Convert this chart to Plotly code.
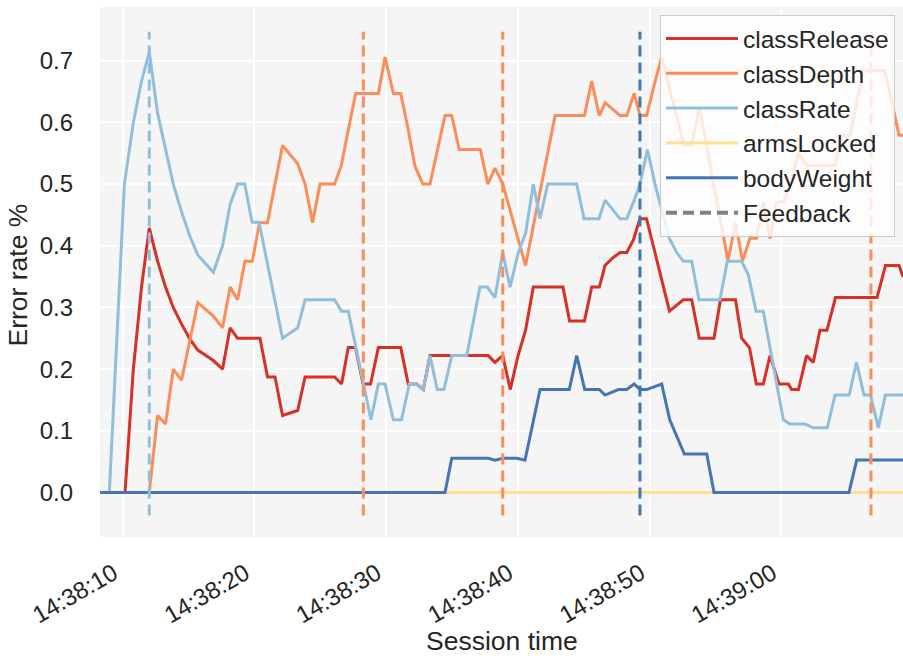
import pandas as pd
import plotly.graph_objects as go

# ---- data (seconds after 14:38:00, error rates) ----
BASE = pd.Timestamp("2023-01-01 14:38:00")

release_t = [8.29, 10.19, 10.82, 11.44, 12.03, 12.66, 13.26, 13.85, 14.48, 15.08,
             15.71, 16.89, 17.59, 18.16, 18.73, 20.43, 21.00, 21.57, 22.14, 23.29,
             23.85, 26.09, 26.62, 27.13, 27.68, 28.25, 28.82, 29.41, 31.11, 31.68,
             32.31, 32.82, 33.33, 37.75, 38.26, 38.85, 39.42, 40.01, 40.58, 41.17,
             43.42, 43.92, 45.05, 45.60, 46.18, 46.61, 47.24, 47.75, 48.26, 48.77,
             49.26, 49.76, 51.50, 52.55, 53.19, 53.76, 54.88, 55.37, 56.51, 56.98,
             57.57, 58.09, 58.62, 59.13, 59.81, 60.52, 60.77, 61.29, 61.90, 62.41,
             62.92, 63.45, 64.10, 67.25, 67.89, 68.92, 69.22]
release_v = [0, 0, 0.2, 0.333, 0.429, 0.375, 0.333, 0.3, 0.273, 0.25,
             0.231, 0.214, 0.2, 0.267, 0.25, 0.25, 0.1875, 0.1875, 0.125, 0.133,
             0.1875, 0.1875, 0.176, 0.235, 0.235, 0.176, 0.176, 0.235, 0.235, 0.176,
             0.176, 0.167, 0.222, 0.222, 0.211, 0.222, 0.167, 0.222, 0.263, 0.333,
             0.333, 0.278, 0.278, 0.333, 0.333, 0.368, 0.381, 0.389, 0.389, 0.41,
             0.444, 0.444, 0.294, 0.3125, 0.3125, 0.25, 0.25, 0.3125, 0.3125, 0.25,
             0.235, 0.176, 0.176, 0.222, 0.176, 0.176, 0.167, 0.167, 0.222, 0.211,
             0.263, 0.263, 0.316, 0.316, 0.368, 0.368, 0.35]

depth_t = [8.29, 12.03, 12.66, 13.26, 13.85, 14.48, 15.71, 16.89, 17.59, 18.16,
           18.73, 19.29, 19.85, 20.39, 21.00, 22.14, 23.29, 23.85, 24.42, 24.99,
           26.09, 26.59, 27.13, 27.69, 29.41, 29.92, 30.55, 31.11, 31.68, 32.19,
           32.78, 33.33, 34.47, 34.98, 35.55, 37.15, 37.72, 38.26, 38.85, 40.58,
           42.82, 45.05, 45.60, 46.18, 46.61, 47.75, 48.26, 48.82, 49.26, 49.77,
           50.33, 50.91, 51.49, 52.05, 52.63, 53.19, 53.76, 54.33, 54.83, 55.41,
           55.94, 56.51, 57.04, 57.61, 58.10, 58.62, 59.13, 59.64, 60.14, 60.68,
           61.29, 61.90, 64.06, 64.59, 65.20, 66.21, 67.85, 68.92, 69.22]
depth_v = [0, 0, 0.125, 0.111, 0.2, 0.182, 0.308, 0.286, 0.267, 0.333,
           0.3125, 0.375, 0.375, 0.4375, 0.4375, 0.5625, 0.533, 0.5, 0.4375, 0.5,
           0.5, 0.529, 0.588, 0.647, 0.647, 0.706, 0.647, 0.647, 0.588, 0.529,
           0.5, 0.5, 0.611, 0.611, 0.556, 0.556, 0.5, 0.526, 0.5, 0.368,
           0.611, 0.611, 0.667, 0.611, 0.632, 0.611, 0.611, 0.647, 0.611, 0.611,
           0.66, 0.706, 0.656, 0.611, 0.5625, 0.5625, 0.625, 0.5625, 0.5, 0.4375,
           0.375, 0.4375, 0.375, 0.412, 0.412, 0.471, 0.412, 0.471, 0.471, 0.5,
           0.55, 0.53, 0.53, 0.579, 0.579, 0.684, 0.684, 0.579, 0.579]

rate_t = [8.29, 9.00, 10.14, 10.82, 11.44, 12.03, 12.66, 13.26, 13.85, 14.48,
          15.08, 15.71, 16.89, 17.59, 18.16, 18.73, 19.27, 19.83, 20.36, 22.14,
          23.29, 23.85, 26.09, 26.62, 27.13, 28.85, 29.41, 29.92, 30.55, 31.17,
          31.76, 32.31, 32.82, 33.33, 33.88, 34.39, 34.98, 36.12, 37.12, 37.68,
          38.26, 38.85, 39.40, 40.03, 40.59, 41.17, 41.68, 42.26, 44.46, 45.02,
          46.15, 46.61, 47.75, 48.26, 48.83, 49.26, 49.83, 50.40, 50.91, 51.49,
          52.05, 52.55, 53.19, 53.74, 55.33, 55.89, 56.98, 57.48, 58.07, 58.62,
          60.14, 60.65, 61.78, 62.41, 63.48, 64.06, 65.14, 65.69, 66.26, 66.75,
          67.35, 67.88, 69.22]
rate_v = [0, 0, 0.5, 0.6, 0.667, 0.714, 0.615, 0.556, 0.5, 0.455,
          0.417, 0.385, 0.357, 0.4, 0.467, 0.5, 0.5, 0.438, 0.438, 0.25,
          0.267, 0.3125, 0.3125, 0.294, 0.294, 0.118, 0.176, 0.176, 0.118, 0.118,
          0.176, 0.176, 0.167, 0.222, 0.167, 0.167, 0.222, 0.222, 0.333, 0.333,
          0.316, 0.389, 0.333, 0.389, 0.421, 0.5, 0.444, 0.5, 0.5, 0.444,
          0.444, 0.474, 0.444, 0.444, 0.474, 0.5, 0.556, 0.5, 0.458, 0.412,
          0.389, 0.375, 0.375, 0.3125, 0.3125, 0.375, 0.375, 0.353, 0.294, 0.294,
          0.118, 0.111, 0.111, 0.105, 0.105, 0.158, 0.158, 0.211, 0.158, 0.158,
          0.105, 0.158, 0.158]

arms_t = [8.29, 69.22]
arms_v = [0, 0]

body_t = [8.29, 34.47, 34.98, 37.75, 38.26, 38.85, 39.93, 40.54, 41.68, 43.90,
          44.46, 45.07, 46.18, 46.61, 47.63, 48.26, 48.82, 49.26, 49.77, 50.91,
          51.52, 52.63, 54.33, 54.88, 65.12, 65.71, 69.22]
body_v = [0, 0, 0.0556, 0.0556, 0.0526, 0.0556, 0.0556, 0.0526, 0.167, 0.167,
          0.222, 0.167, 0.167, 0.158, 0.167, 0.167, 0.176, 0.167, 0.167, 0.176,
          0.118, 0.0625, 0.0625, 0, 0, 0.0526, 0.0526]

feedback_t = [12.03, 28.27, 38.85, 49.26, 66.79]
feedback_cls = ["classRate", "classDepth", "classDepth", "bodyWeight", "classDepth"]
feedback_span = [-0.037, 0.747]

x_range_s = [8.29, 69.22]
y_range = [-0.072, 0.787]
y_ticks = [0, 0.1, 0.2, 0.3, 0.4, 0.5, 0.6, 0.7]

names = ["classRelease", "classDepth", "classRate", "armsLocked", "bodyWeight"]
colors = {"classRelease": "#d73027", "classDepth": "#fc8d59", "classRate": "#91bfdb",
          "armsLocked": "#fee090", "bodyWeight": "#4575b4"}
series = {"classRelease": (release_t, release_v), "classDepth": (depth_t, depth_v),
          "classRate": (rate_t, rate_v), "armsLocked": (arms_t, arms_v),
          "bodyWeight": (body_t, body_v)}


def ts(secs):
    return [BASE + pd.Timedelta(seconds=s) for s in secs]


FONT = "Liberation Sans, Arial, Helvetica, sans-serif"
TXT = "#262626"
DASH = "11px,6px"

fig = go.Figure()
for n in names:
    t, v = series[n]
    fig.add_trace(go.Scatter(x=ts(t), y=v, mode="lines", name=n,
                             line=dict(color=colors[n], width=3)))

for t, c in zip(feedback_t, feedback_cls):
    fig.add_trace(go.Scatter(x=ts([t, t]), y=feedback_span, mode="lines",
                             showlegend=False, hoverinfo="skip",
                             line=dict(color=colors[c], width=3, dash=DASH)))

fig.add_trace(go.Scatter(x=[None], y=[None], mode="lines", name="Feedback",
                         line=dict(color="#808080", width=4, dash=DASH)))

fig.update_layout(
    width=903, height=659,
    margin=dict(l=100, r=0, t=7, b=122),
    paper_bgcolor="white", plot_bgcolor="#f5f5f5",
    font=dict(family=FONT, color=TXT, size=24),
    showlegend=True,
    legend=dict(x=0.99, y=0.985, xanchor="right", yanchor="top",
                bgcolor="rgba(255,255,255,0.8)", bordercolor="#cccccc",
                borderwidth=1, font=dict(size=24.5, color=TXT),
                itemwidth=72, tracegroupgap=0),
    xaxis=dict(type="date", range=ts(x_range_s), tickformat="%H:%M:%S",
               dtick=10000, tick0=BASE + pd.Timedelta(seconds=10),
               tickangle=-30, showgrid=True, gridcolor="white", gridwidth=1.5,
               zeroline=False, showline=False, ticks="",
               tickfont=dict(size=24, color=TXT), ticklabelstandoff=17,
               ticklabelshift=-9),
    yaxis=dict(range=y_range, tickvals=y_ticks,
               tickformat=".1f", showgrid=True, gridcolor="white", gridwidth=1.5,
               zeroline=False, showline=False, ticks="",
               tickfont=dict(size=24, color=TXT), ticklabelstandoff=26),
    annotations=[
        dict(text="Session time", xref="paper", yref="paper", x=0.5, y=-0.1962,
             xanchor="center", yanchor="middle", showarrow=False,
             font=dict(size=26.5, color=TXT)),
        dict(text="Error rate %", xref="paper", yref="paper", x=-0.1021, y=0.4934,
             xanchor="center", yanchor="middle", textangle=-90, showarrow=False,
             font=dict(size=26.5, color=TXT)),
    ],
)

fig.write_html("out.html", config={"displayModeBar": False},
               post_script="document.body.style.margin='0';")
